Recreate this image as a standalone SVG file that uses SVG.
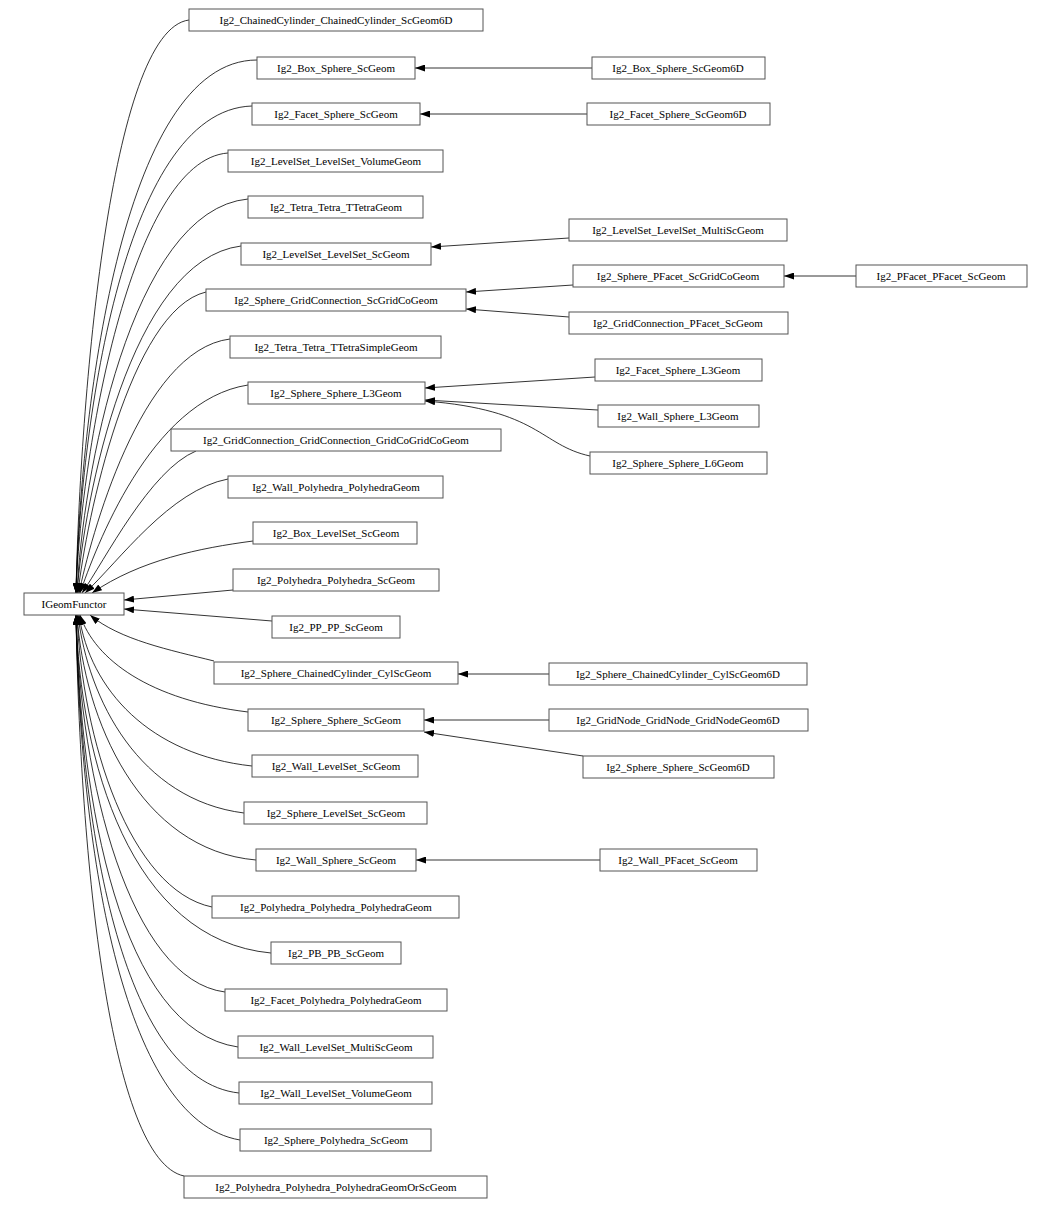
<svg xmlns="http://www.w3.org/2000/svg" width="1052" height="1210" viewBox="0 0 1052 1210">
<style>
.n rect{fill:#fff;stroke:#555;stroke-width:1}
.n text{font-family:"Liberation Serif","DejaVu Serif",serif;font-size:11px;text-anchor:middle;fill:#000}
.e path{fill:none;stroke:#000;stroke-width:0.8;marker-end:url(#a)}
</style>
<defs><marker id="a" markerUnits="userSpaceOnUse" markerWidth="10" markerHeight="7" refX="10" refY="3.5" orient="auto"><path d="M0,0 L10,3.5 L0,7 z" fill="#000"/></marker></defs>
<rect width="1052" height="1210" fill="#fff"/>
<g id="edges" class="e">
<path d="M189,20 C110,30 80,400 76,593"/>
<path d="M257,60 C120,60 80,420 76,593"/>
<path d="M252,106 C120,110 80,440 76,593"/>
<path d="M228,153 C130,160 80,460 76,593"/>
<path d="M248,199 C130,210 82,480 77,593"/>
<path d="M241,246 C130,260 84,500 77,593"/>
<path d="M206,292 C130,310 86,520 78,593"/>
<path d="M230,339 C140,350 90,540 79,593"/>
<path d="M248,385 C150,400 95,550 80,593"/>
<path d="M196,451 C150,470 105,560 82,593"/>
<path d="M228,479 C170,490 120,560 85,593"/>
<path d="M253,541 C200,548 140,560 92,593"/>
<path d="M233,590 L124,600"/>
<path d="M272,621 L124,609"/>
<path d="M214,661 C170,650 120,640 90,615"/>
<path d="M248,712 C150,700 95,660 80,615"/>
<path d="M252,766 C150,755 90,690 79,615"/>
<path d="M244,813 C140,800 88,700 78,615"/>
<path d="M256,860 C140,850 84,720 77,615"/>
<path d="M212,907 C130,890 82,740 77,615"/>
<path d="M271,953 C130,940 80,760 76,615"/>
<path d="M225,992 C130,980 80,780 76,615"/>
<path d="M238,1047 C120,1030 80,800 76,615"/>
<path d="M239,1093 C120,1080 80,820 76,615"/>
<path d="M240,1140 C120,1120 80,840 76,615"/>
<path d="M184,1176 C110,1160 80,860 76,615"/>
<path d="M592,68 L415,68"/>
<path d="M587,114 L420,114"/>
<path d="M569,238 L431,247"/>
<path d="M573,285 L466,292"/>
<path d="M569,317 L466,309"/>
<path d="M856,276 L784,276"/>
<path d="M595,377 L425,388"/>
<path d="M598,410 L425,400"/>
<path d="M590,456 C540,445 540,410 425,401"/>
<path d="M549,674 L458,674"/>
<path d="M549,720 L424,720"/>
<path d="M583,756 L424,732"/>
<path d="M600,860 L416,860"/>
</g>
<g id="IGeomFunctor" class="n"><rect x="24" y="593" width="100" height="22"/><text x="74" y="608">IGeomFunctor</text></g>
<g id="n1" class="n"><rect x="189" y="9" width="294" height="22"/><text x="336" y="24">Ig2_ChainedCylinder_ChainedCylinder_ScGeom6D</text></g>
<g id="n2" class="n"><rect x="257" y="57" width="158" height="22"/><text x="336" y="72">Ig2_Box_Sphere_ScGeom</text></g>
<g id="n3" class="n"><rect x="252" y="103" width="168" height="22"/><text x="336" y="118">Ig2_Facet_Sphere_ScGeom</text></g>
<g id="n4" class="n"><rect x="228" y="150" width="215" height="22"/><text x="336" y="165">Ig2_LevelSet_LevelSet_VolumeGeom</text></g>
<g id="n5" class="n"><rect x="248" y="196" width="175" height="22"/><text x="336" y="211">Ig2_Tetra_Tetra_TTetraGeom</text></g>
<g id="n6" class="n"><rect x="241" y="243" width="190" height="22"/><text x="336" y="258">Ig2_LevelSet_LevelSet_ScGeom</text></g>
<g id="n7" class="n"><rect x="206" y="289" width="260" height="22"/><text x="336" y="304">Ig2_Sphere_GridConnection_ScGridCoGeom</text></g>
<g id="n8" class="n"><rect x="230" y="336" width="211" height="22"/><text x="336" y="351">Ig2_Tetra_Tetra_TTetraSimpleGeom</text></g>
<g id="n9" class="n"><rect x="248" y="382" width="177" height="22"/><text x="336" y="397">Ig2_Sphere_Sphere_L3Geom</text></g>
<g id="n10" class="n"><rect x="171" y="429" width="330" height="22"/><text x="336" y="444">Ig2_GridConnection_GridConnection_GridCoGridCoGeom</text></g>
<g id="n11" class="n"><rect x="228" y="476" width="215" height="22"/><text x="336" y="491">Ig2_Wall_Polyhedra_PolyhedraGeom</text></g>
<g id="n12" class="n"><rect x="253" y="522" width="164" height="22"/><text x="336" y="537">Ig2_Box_LevelSet_ScGeom</text></g>
<g id="n13" class="n"><rect x="233" y="569" width="206" height="22"/><text x="336" y="584">Ig2_Polyhedra_Polyhedra_ScGeom</text></g>
<g id="n14" class="n"><rect x="272" y="616" width="128" height="22"/><text x="336" y="631">Ig2_PP_PP_ScGeom</text></g>
<g id="n15" class="n"><rect x="214" y="662" width="244" height="22"/><text x="336" y="677">Ig2_Sphere_ChainedCylinder_CylScGeom</text></g>
<g id="n16" class="n"><rect x="248" y="709" width="176" height="22"/><text x="336" y="724">Ig2_Sphere_Sphere_ScGeom</text></g>
<g id="n17" class="n"><rect x="252" y="755" width="166" height="22"/><text x="336" y="770">Ig2_Wall_LevelSet_ScGeom</text></g>
<g id="n18" class="n"><rect x="244" y="802" width="183" height="22"/><text x="336" y="817">Ig2_Sphere_LevelSet_ScGeom</text></g>
<g id="n19" class="n"><rect x="256" y="849" width="160" height="22"/><text x="336" y="864">Ig2_Wall_Sphere_ScGeom</text></g>
<g id="n20" class="n"><rect x="212" y="896" width="247" height="22"/><text x="336" y="911">Ig2_Polyhedra_Polyhedra_PolyhedraGeom</text></g>
<g id="n21" class="n"><rect x="271" y="942" width="130" height="22"/><text x="336" y="957">Ig2_PB_PB_ScGeom</text></g>
<g id="n22" class="n"><rect x="225" y="989" width="222" height="22"/><text x="336" y="1004">Ig2_Facet_Polyhedra_PolyhedraGeom</text></g>
<g id="n23" class="n"><rect x="238" y="1036" width="195" height="22"/><text x="336" y="1051">Ig2_Wall_LevelSet_MultiScGeom</text></g>
<g id="n24" class="n"><rect x="239" y="1082" width="193" height="22"/><text x="336" y="1097">Ig2_Wall_LevelSet_VolumeGeom</text></g>
<g id="n25" class="n"><rect x="240" y="1129" width="191" height="22"/><text x="336" y="1144">Ig2_Sphere_Polyhedra_ScGeom</text></g>
<g id="n26" class="n"><rect x="184" y="1176" width="303" height="22"/><text x="336" y="1191">Ig2_Polyhedra_Polyhedra_PolyhedraGeomOrScGeom</text></g>
<g id="m1" class="n"><rect x="592" y="57" width="173" height="22"/><text x="678" y="72">Ig2_Box_Sphere_ScGeom6D</text></g>
<g id="m2" class="n"><rect x="587" y="103" width="183" height="22"/><text x="678" y="118">Ig2_Facet_Sphere_ScGeom6D</text></g>
<g id="m3" class="n"><rect x="569" y="219" width="218" height="22"/><text x="678" y="234">Ig2_LevelSet_LevelSet_MultiScGeom</text></g>
<g id="m4" class="n"><rect x="573" y="265" width="211" height="22"/><text x="678" y="280">Ig2_Sphere_PFacet_ScGridCoGeom</text></g>
<g id="m5" class="n"><rect x="569" y="312" width="219" height="22"/><text x="678" y="327">Ig2_GridConnection_PFacet_ScGeom</text></g>
<g id="m6" class="n"><rect x="595" y="359" width="167" height="22"/><text x="678" y="374">Ig2_Facet_Sphere_L3Geom</text></g>
<g id="m7" class="n"><rect x="598" y="405" width="161" height="22"/><text x="678" y="420">Ig2_Wall_Sphere_L3Geom</text></g>
<g id="m8" class="n"><rect x="590" y="452" width="177" height="22"/><text x="678" y="467">Ig2_Sphere_Sphere_L6Geom</text></g>
<g id="m9" class="n"><rect x="549" y="663" width="258" height="22"/><text x="678" y="678">Ig2_Sphere_ChainedCylinder_CylScGeom6D</text></g>
<g id="m10" class="n"><rect x="549" y="709" width="259" height="22"/><text x="678" y="724">Ig2_GridNode_GridNode_GridNodeGeom6D</text></g>
<g id="m11" class="n"><rect x="583" y="756" width="191" height="22"/><text x="678" y="771">Ig2_Sphere_Sphere_ScGeom6D</text></g>
<g id="m12" class="n"><rect x="600" y="849" width="157" height="22"/><text x="678" y="864">Ig2_Wall_PFacet_ScGeom</text></g>
<g id="p1" class="n"><rect x="856" y="265" width="171" height="22"/><text x="941" y="280">Ig2_PFacet_PFacet_ScGeom</text></g>
</svg>
